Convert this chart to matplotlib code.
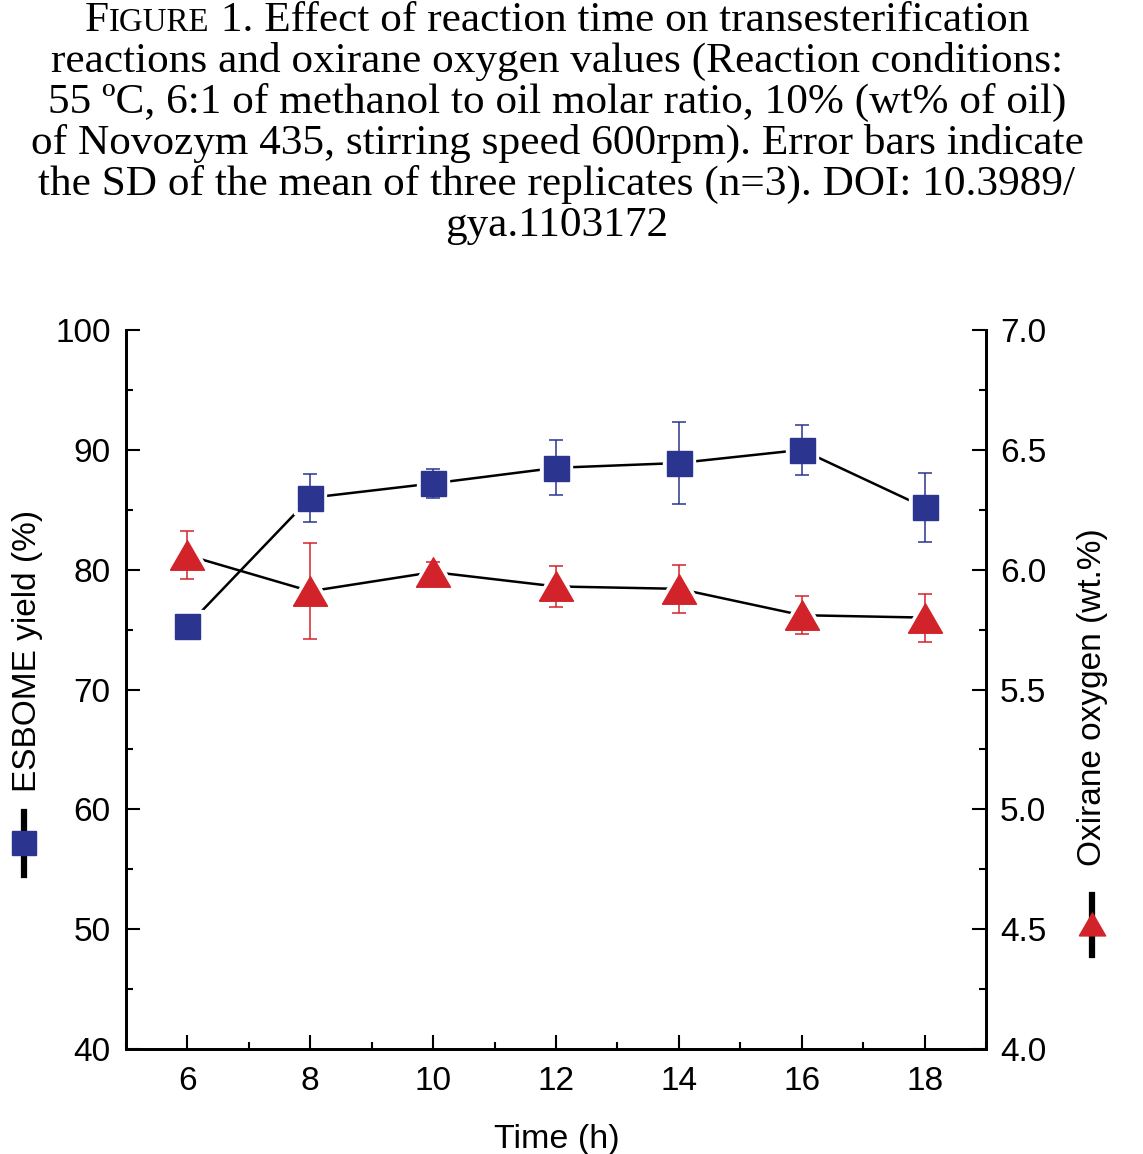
import numpy as np
import matplotlib.pyplot as plt
from matplotlib.lines import Line2D
from matplotlib.ticker import MultipleLocator, FormatStrFormatter

plt.rcParams['font.family'] = ['Liberation Sans', 'DejaVu Sans']

# data
time_h = [6, 8, 10, 12, 14, 16, 18]
esbome_yield = [75.3, 86.0, 87.2, 88.5, 88.9, 90.0, 85.2]
esbome_sd = [0.4, 2.0, 1.2, 2.3, 3.4, 2.1, 2.9]
oxirane_o = [6.06, 5.91, 5.99, 5.93, 5.92, 5.81, 5.80]
oxirane_sd = [0.10, 0.20, 0.04, 0.085, 0.10, 0.08, 0.10]

title_lines = [
    "reactions and oxirane oxygen values (Reaction conditions:",
    "55 \u00baC, 6:1 of methanol to oil molar ratio, 10% (wt% of oil)",
    "of Novozym 435, stirring speed 600rpm). Error bars indicate",
    "the SD of the mean of three replicates (n=3). DOI: 10.3989/",
    "gya.1103172",
]
title_first = ["F", "IGURE", " 1. Effect of reaction time on transesterification"]

blue = '#2b3590'
red = '#d2232a'
W, H = 1143, 1154

fig = plt.figure(figsize=(W / 100, H / 100), dpi=100)
ax = fig.add_axes([126 / W, 1 - 1049 / H, (986 - 126) / W, (1049 - 330) / H])
ax2 = ax.twinx()

# ESBOME yield
ax.plot(time_h, esbome_yield, color='black', lw=1.8, zorder=1)
ax.plot(time_h, esbome_yield, ls='none', marker='s', ms=18, mfc='white', mec='white', mew=6, zorder=2)
ax.errorbar(time_h, esbome_yield, yerr=esbome_sd, fmt='none', ecolor=blue,
            elinewidth=1.1, capsize=5, capthick=1.1, zorder=3)
ax.plot(time_h, esbome_yield, ls='none', marker='s', ms=18, color=blue, mec=blue, zorder=4)

# oxirane oxygen
tri = [(-1, -0.866), (1, -0.866), (0, 0.866), (-1, -0.866)]
ax2.plot(time_h, oxirane_o, color='black', lw=1.8, zorder=1)
ax2.plot(time_h, oxirane_o, ls='none', marker=tri, ms=24.5, mfc='white', mec='white', mew=6, zorder=2)
ax2.errorbar(time_h, oxirane_o, yerr=oxirane_sd, fmt='none', ecolor=red,
             elinewidth=1.1, capsize=5, capthick=1.1, zorder=3)
ax2.plot(time_h, oxirane_o, ls='none', marker=tri, ms=24.5, color=red, mec=red, zorder=4)

ax.set_xlim(5, 19)
ax.set_ylim(40, 100)
ax2.set_ylim(4.0, 7.0)
ax.xaxis.set_major_locator(MultipleLocator(2))
ax.xaxis.set_minor_locator(MultipleLocator(1))
ax.yaxis.set_major_locator(MultipleLocator(10))
ax.yaxis.set_minor_locator(MultipleLocator(5))
ax2.yaxis.set_major_locator(MultipleLocator(0.5))
ax2.yaxis.set_minor_locator(MultipleLocator(0.25))
ax2.yaxis.set_major_formatter(FormatStrFormatter('%.1f'))

for a in (ax, ax2):
    a.spines['top'].set_visible(False)
    for s in a.spines.values():
        s.set_linewidth(2)
    a.tick_params(which='major', direction='in', length=10, width=1.5, labelsize=24)
    a.tick_params(which='minor', direction='in', length=5, width=1.5)
ax.tick_params(axis='y', pad=11)
ax.tick_params(axis='x', pad=12)
ax2.tick_params(axis='y', pad=10)
ax.tick_params(axis='x', which='both', top=False)
ax2.tick_params(axis='x', which='both', top=False, bottom=False, labeltop=False)

# axis titles with their symbol keys
fig.text(557 / W, 1 - 1148 / H, 'Time (h)', ha='center', va='baseline', size=24.5)
fig.text(28 / W, 1 - 651 / H, 'ESBOME yield (%)', rotation=90, ha='center', va='center', size=24)
fig.text(1093 / W, 1 - 697 / H, 'Oxirane oxygen (wt.%)', rotation=90, ha='center', va='center', size=24)

fig.add_artist(Line2D([24 / W, 24 / W], [1 - 812 / H, 1 - 875 / H], color='black', lw=4.5,
                      transform=fig.transFigure))
fig.add_artist(Line2D([24 / W], [1 - 843 / H], marker='s', ms=17, color=blue, ls='none',
                      transform=fig.transFigure))
fig.add_artist(Line2D([1092 / W, 1092 / W], [1 - 895 / H, 1 - 955 / H], color='black', lw=4.5,
                      transform=fig.transFigure))
fig.add_artist(Line2D([1092 / W], [1 - 924 / H], marker=tri, ms=19, color=red, ls='none',
                      transform=fig.transFigure))

# caption, Times-like, first word in small caps
serif = ['Liberation Serif', 'DejaVu Serif']
r = fig.canvas.get_renderer()
probe = fig.text(0, 0, title_lines[0], family=serif, size=10)
w10 = probe.get_window_extent(r).width
probe.remove()
tsize = 10 * 1013 / w10

cx = 557
baselines = [31, 72, 113, 154, 195, 236]
sizes = [tsize, tsize * 0.76, tsize]
parts = [fig.text(0, 1 - baselines[0] / H, s, family=serif, size=z, va='baseline')
         for s, z in zip(title_first, sizes)]
widths = [p.get_window_extent(r).width for p in parts]
x0 = cx - sum(widths) / 2
for p, w in zip(parts, widths):
    p.set_x(x0 / W)
    x0 += w
for line, b in zip(title_lines, baselines[1:]):
    fig.text(cx / W, 1 - b / H, line, family=serif, size=tsize, ha='center', va='baseline')

fig.savefig('out.png', dpi=100)
